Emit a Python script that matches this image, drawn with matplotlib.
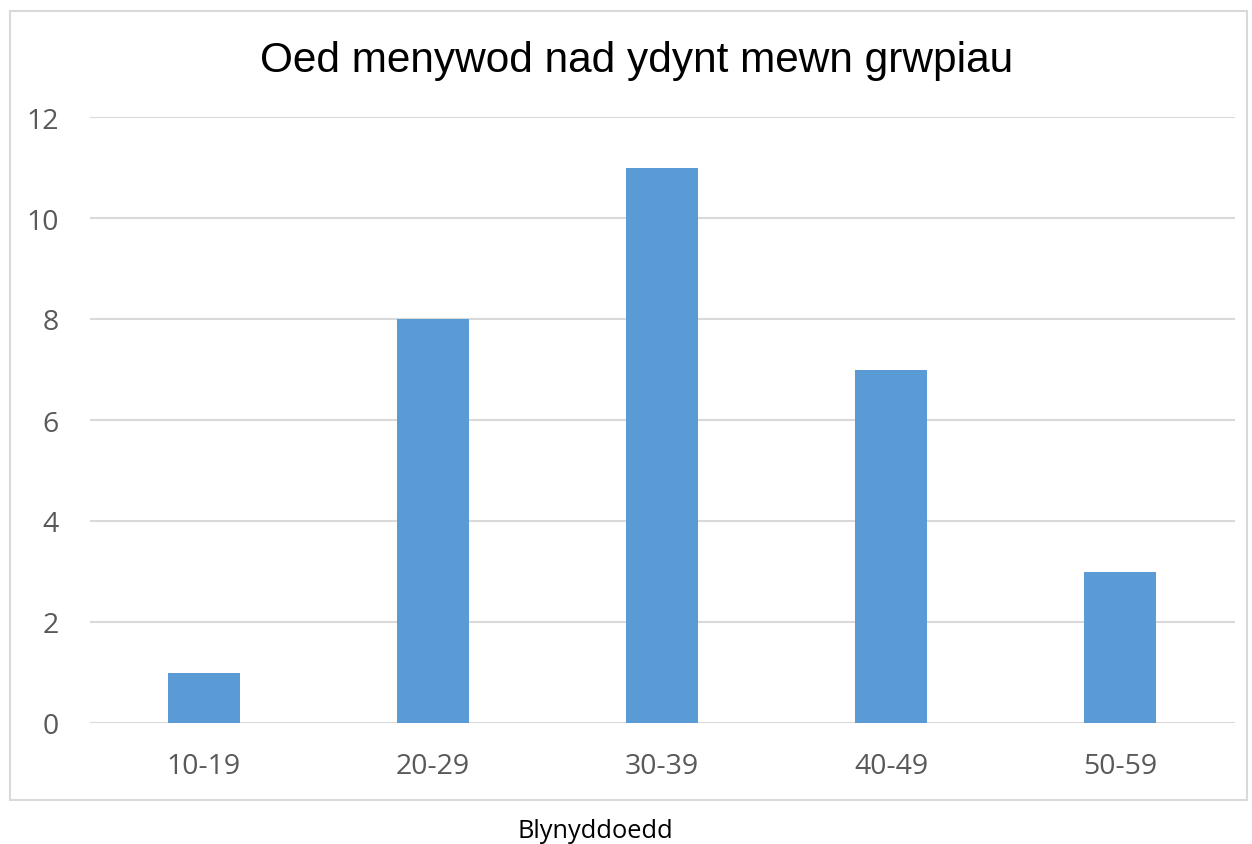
import matplotlib
matplotlib.use("Agg")
import matplotlib.pyplot as plt
from matplotlib.patches import Rectangle

categories = ["10-19", "20-29", "30-39", "40-49", "50-59"]
values = [1, 8, 11, 7, 3]
yticks = [0, 2, 4, 6, 8, 10, 12]
title = "Oed menywod nad ydynt mewn grwpiau"
xlabel = "Blynyddoedd"

W, H = 1252, 845
fig = plt.figure(figsize=(W / 100, H / 100), dpi=100)

# outer chart border
fig.patches.append(Rectangle((10 / W, 1 - 801 / H), (1247 - 10) / W, (801 - 12) / H,
                             transform=fig.transFigure, fill=False,
                             edgecolor="#d9d9d9", linewidth=1.5))

left, right, top, bottom = 89.5, 1234.5, 118, 724
ax = fig.add_axes([left / W, 1 - bottom / H, (right - left) / W, (bottom - top) / H])

x = list(range(len(categories)))
ax.bar(x, values, width=72 / 229, color="#5B9BD5", zorder=3)
ax.set_xlim(-0.5, len(categories) - 0.5)
ax.set_ylim(0, 12)
ax.set_yticks(yticks)
ax.set_yticklabels([str(t) for t in yticks])
ax.set_xticks(x)
ax.set_xticklabels(categories)
ax.grid(axis="y", color="#d9d9d9", linewidth=1.5, zorder=0)
for s in ax.spines.values():
    s.set_visible(False)
ax.tick_params(axis="both", length=0, labelcolor="#595959", labelsize=20.5)
ax.tick_params(axis="y", pad=22)
ax.tick_params(axis="x", pad=21)
for lbl in ax.get_xticklabels() + ax.get_yticklabels():
    lbl.set_family("Open Sans")
ax.set_facecolor("none")

fig.text(637 / W, 1 - 61 / H, title, ha="center", va="center",
         fontsize=30.5, family="Liberation Sans", color="black")
fig.text(595 / W, 1 - 832 / H, xlabel, ha="center", va="center",
         fontsize=18.3, family="Open Sans", color="black")

fig.savefig("out.png", dpi=100)
